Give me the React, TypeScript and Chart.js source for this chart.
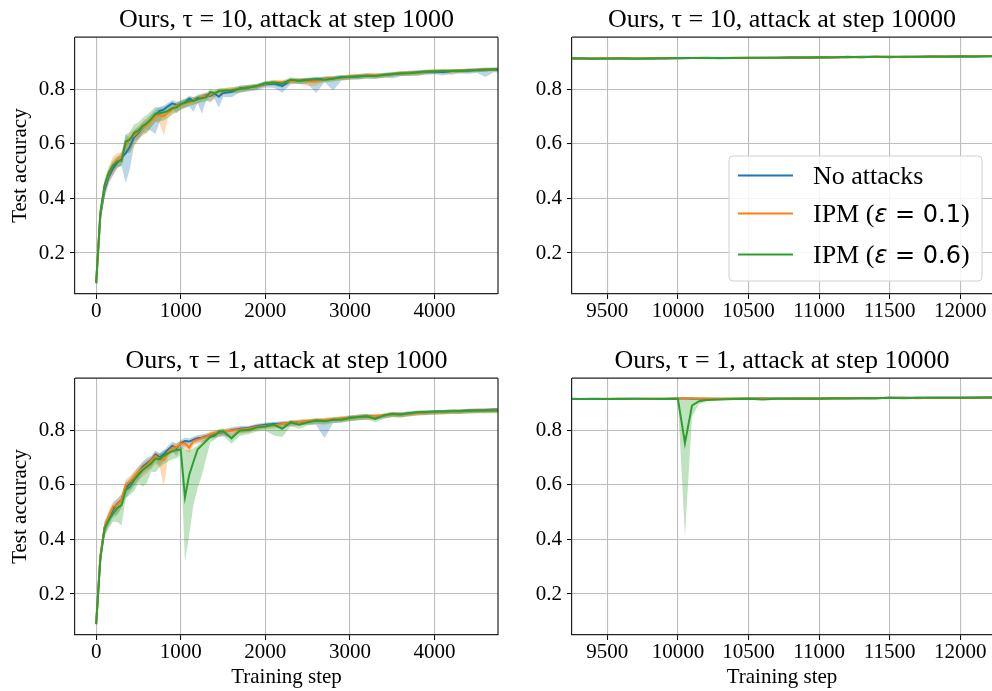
import React, { useEffect, useRef } from 'react';
import { Chart, registerables } from 'chart.js';

Chart.register(...registerables);

// ---------------- data ----------------
const TITLES = [
  'Ours, τ = 10, attack at step 1000',
  'Ours, τ = 10, attack at step 10000',
  'Ours, τ = 1, attack at step 1000',
  'Ours, τ = 1, attack at step 10000',
];
const LEGEND_LABELS = ['No attacks', 'IPM (ε = 0.1)', 'IPM (ε = 0.6)'];
const X_TICKS_L = [0, 1000, 2000, 3000, 4000];
const X_TICKS_R = [9500, 10000, 10500, 11000, 11500, 12000];
const Y_TICKS = [0.2, 0.4, 0.6, 0.8];

const STEPS_L = [
  0, 50, 100, 150, 200, 250, 300, 350,
  400, 450, 500, 550, 600, 650, 700, 750,
  800, 850, 900, 950, 1000, 1050, 1100, 1150,
  1200, 1250, 1300, 1350, 1400, 1450, 1500, 1600,
  1700, 1800, 1900, 2000, 2100, 2200, 2300, 2400,
  2500, 2600, 2700, 2800, 2900, 3000, 3100, 3200,
  3300, 3400, 3500, 3600, 3700, 3800, 3900, 4000,
  4100, 4200, 4300, 4400, 4500, 4600, 4700, 4750,
];

// top-left: tau = 10, attack at step 1000
const TL_BLUE = [
  0.090, 0.340, 0.430, 0.480, 0.510, 0.530, 0.550, 0.565,
  0.590, 0.625, 0.640, 0.660, 0.672, 0.688, 0.705, 0.720,
  0.725, 0.738, 0.748, 0.742, 0.745, 0.752, 0.765, 0.758,
  0.768, 0.770, 0.778, 0.775, 0.784, 0.772, 0.786, 0.790,
  0.803, 0.806, 0.810, 0.818, 0.820, 0.812, 0.830, 0.832,
  0.834, 0.836, 0.838, 0.840, 0.843, 0.845, 0.846, 0.850,
  0.849, 0.853, 0.854, 0.857, 0.860, 0.861, 0.863, 0.864,
  0.862, 0.866, 0.868, 0.867, 0.870, 0.869, 0.872, 0.871,
];
const TL_BLUE_DN = [
  0.005, 0.030, 0.030, 0.025, 0.025, 0.020, 0.030, 0.110,
  0.080, 0.030, 0.025, 0.020, 0.020, 0.040, 0.070, 0.040,
  0.020, 0.015, 0.020, 0.030, 0.015, 0.020, 0.030, 0.040,
  0.020, 0.060, 0.020, 0.020, 0.020, 0.040, 0.015, 0.020,
  0.015, 0.015, 0.015, 0.012, 0.015, 0.025, 0.012, 0.012,
  0.015, 0.050, 0.012, 0.045, 0.012, 0.010, 0.012, 0.010,
  0.012, 0.010, 0.015, 0.010, 0.010, 0.012, 0.010, 0.010,
  0.012, 0.010, 0.010, 0.012, 0.010, 0.025, 0.010, 0.010,
];
const TL_BLUE_UP = [
  0.005, 0.020, 0.020, 0.020, 0.020, 0.020, 0.020, 0.070,
  0.030, 0.025, 0.020, 0.020, 0.020, 0.020, 0.020, 0.015,
  0.015, 0.012, 0.012, 0.012, 0.012, 0.012, 0.012, 0.012,
  0.012, 0.012, 0.010, 0.010, 0.010, 0.010, 0.010, 0.010,
  0.010, 0.008, 0.008, 0.008, 0.008, 0.008, 0.008, 0.008,
  0.008, 0.008, 0.008, 0.008, 0.008, 0.008, 0.008, 0.008,
  0.007, 0.007, 0.007, 0.007, 0.007, 0.007, 0.007, 0.007,
  0.006, 0.006, 0.006, 0.006, 0.006, 0.006, 0.006, 0.006,
];
const TL_ORANGE = [
  0.090, 0.345, 0.445, 0.490, 0.525, 0.540, 0.550, 0.595,
  0.620, 0.630, 0.645, 0.660, 0.670, 0.685, 0.700, 0.705,
  0.700, 0.715, 0.725, 0.740, 0.742, 0.750, 0.752, 0.760,
  0.762, 0.772, 0.775, 0.780, 0.786, 0.790, 0.792, 0.798,
  0.800, 0.808, 0.810, 0.820, 0.825, 0.826, 0.828, 0.832,
  0.830, 0.828, 0.838, 0.840, 0.842, 0.846, 0.848, 0.850,
  0.852, 0.851, 0.856, 0.858, 0.860, 0.860, 0.865, 0.866,
  0.868, 0.866, 0.868, 0.870, 0.871, 0.873, 0.872, 0.874,
];
const TL_ORANGE_DN = [
  0.005, 0.030, 0.030, 0.030, 0.040, 0.030, 0.025, 0.030,
  0.050, 0.040, 0.030, 0.030, 0.030, 0.025, 0.020, 0.030,
  0.070, 0.020, 0.020, 0.020, 0.020, 0.015, 0.015, 0.015,
  0.015, 0.015, 0.015, 0.030, 0.015, 0.012, 0.012, 0.012,
  0.012, 0.012, 0.010, 0.010, 0.010, 0.010, 0.010, 0.012,
  0.020, 0.015, 0.010, 0.010, 0.010, 0.010, 0.010, 0.010,
  0.010, 0.010, 0.010, 0.010, 0.012, 0.010, 0.010, 0.010,
  0.008, 0.015, 0.008, 0.008, 0.008, 0.008, 0.008, 0.008,
];
const TL_ORANGE_UP = [
  0.005, 0.020, 0.020, 0.025, 0.030, 0.025, 0.020, 0.020,
  0.020, 0.020, 0.020, 0.020, 0.020, 0.020, 0.015, 0.015,
  0.015, 0.015, 0.015, 0.012, 0.012, 0.012, 0.012, 0.012,
  0.012, 0.012, 0.012, 0.012, 0.010, 0.010, 0.010, 0.010,
  0.010, 0.008, 0.008, 0.008, 0.008, 0.008, 0.008, 0.008,
  0.010, 0.010, 0.008, 0.008, 0.008, 0.008, 0.008, 0.008,
  0.007, 0.007, 0.007, 0.007, 0.007, 0.007, 0.007, 0.007,
  0.006, 0.006, 0.006, 0.006, 0.006, 0.006, 0.006, 0.006,
];
const TL_GREEN = [
  0.090, 0.350, 0.450, 0.495, 0.520, 0.535, 0.537, 0.608,
  0.615, 0.640, 0.648, 0.665, 0.675, 0.690, 0.710, 0.712,
  0.715, 0.720, 0.730, 0.733, 0.745, 0.750, 0.756, 0.757,
  0.763, 0.767, 0.770, 0.790, 0.784, 0.793, 0.794, 0.796,
  0.800, 0.806, 0.812, 0.822, 0.824, 0.820, 0.835, 0.830,
  0.833, 0.836, 0.834, 0.838, 0.843, 0.844, 0.847, 0.848,
  0.848, 0.852, 0.855, 0.858, 0.858, 0.862, 0.864, 0.865,
  0.866, 0.867, 0.866, 0.869, 0.870, 0.872, 0.873, 0.873,
];
const TL_GREEN_DN = [
  0.005, 0.030, 0.030, 0.025, 0.025, 0.020, 0.020, 0.040,
  0.050, 0.030, 0.030, 0.030, 0.035, 0.030, 0.030, 0.030,
  0.030, 0.025, 0.020, 0.020, 0.020, 0.020, 0.015, 0.015,
  0.015, 0.015, 0.015, 0.015, 0.015, 0.012, 0.012, 0.012,
  0.012, 0.012, 0.012, 0.010, 0.012, 0.015, 0.010, 0.012,
  0.012, 0.012, 0.010, 0.010, 0.010, 0.010, 0.010, 0.010,
  0.010, 0.010, 0.010, 0.010, 0.010, 0.010, 0.010, 0.010,
  0.008, 0.008, 0.008, 0.008, 0.008, 0.008, 0.008, 0.008,
];
const TL_GREEN_UP = [
  0.005, 0.020, 0.020, 0.020, 0.020, 0.020, 0.020, 0.025,
  0.030, 0.030, 0.030, 0.030, 0.030, 0.030, 0.025, 0.020,
  0.020, 0.020, 0.015, 0.015, 0.015, 0.015, 0.015, 0.012,
  0.012, 0.012, 0.012, 0.010, 0.010, 0.010, 0.010, 0.010,
  0.010, 0.010, 0.008, 0.008, 0.008, 0.010, 0.008, 0.008,
  0.008, 0.008, 0.008, 0.008, 0.008, 0.008, 0.008, 0.008,
  0.007, 0.007, 0.007, 0.007, 0.007, 0.007, 0.007, 0.007,
  0.006, 0.006, 0.006, 0.006, 0.006, 0.006, 0.006, 0.006,
];

// bottom-left: tau = 1, attack at step 1000
const BL_BLUE = [
  0.090, 0.335, 0.445, 0.480, 0.510, 0.530, 0.545, 0.590,
  0.605, 0.625, 0.645, 0.665, 0.678, 0.690, 0.710, 0.700,
  0.712, 0.728, 0.742, 0.735, 0.752, 0.760, 0.758, 0.765,
  0.770, 0.772, 0.778, 0.782, 0.786, 0.790, 0.792, 0.800,
  0.805, 0.808, 0.815, 0.820, 0.822, 0.824, 0.826, 0.830,
  0.832, 0.834, 0.835, 0.838, 0.842, 0.846, 0.848, 0.851,
  0.850, 0.853, 0.858, 0.858, 0.861, 0.864, 0.865, 0.867,
  0.868, 0.870, 0.870, 0.872, 0.873, 0.874, 0.875, 0.875,
];
const BL_BLUE_DN = [
  0.005, 0.030, 0.030, 0.030, 0.030, 0.040, 0.030, 0.040,
  0.030, 0.030, 0.030, 0.025, 0.025, 0.030, 0.025, 0.030,
  0.025, 0.020, 0.020, 0.030, 0.020, 0.020, 0.020, 0.015,
  0.015, 0.015, 0.015, 0.015, 0.015, 0.015, 0.015, 0.025,
  0.015, 0.015, 0.015, 0.012, 0.012, 0.012, 0.012, 0.012,
  0.012, 0.015, 0.065, 0.012, 0.012, 0.012, 0.012, 0.012,
  0.012, 0.010, 0.010, 0.010, 0.010, 0.010, 0.010, 0.010,
  0.010, 0.010, 0.010, 0.010, 0.010, 0.010, 0.010, 0.010,
];
const BL_BLUE_UP = [
  0.005, 0.020, 0.020, 0.020, 0.020, 0.020, 0.020, 0.020,
  0.020, 0.020, 0.020, 0.020, 0.020, 0.015, 0.015, 0.015,
  0.015, 0.015, 0.015, 0.015, 0.012, 0.012, 0.012, 0.012,
  0.012, 0.012, 0.010, 0.010, 0.010, 0.010, 0.010, 0.010,
  0.010, 0.008, 0.008, 0.008, 0.008, 0.008, 0.008, 0.008,
  0.008, 0.008, 0.008, 0.008, 0.008, 0.008, 0.008, 0.008,
  0.007, 0.007, 0.007, 0.007, 0.007, 0.007, 0.007, 0.007,
  0.006, 0.006, 0.006, 0.006, 0.006, 0.006, 0.006, 0.006,
];
const BL_ORANGE = [
  0.090, 0.340, 0.445, 0.485, 0.520, 0.525, 0.545, 0.600,
  0.612, 0.630, 0.648, 0.660, 0.672, 0.688, 0.705, 0.695,
  0.690, 0.720, 0.735, 0.738, 0.750, 0.752, 0.735, 0.760,
  0.765, 0.770, 0.775, 0.785, 0.790, 0.792, 0.795, 0.798,
  0.802, 0.805, 0.812, 0.815, 0.818, 0.822, 0.828, 0.830,
  0.833, 0.835, 0.837, 0.840, 0.843, 0.845, 0.849, 0.850,
  0.852, 0.854, 0.857, 0.857, 0.860, 0.863, 0.864, 0.866,
  0.867, 0.869, 0.869, 0.871, 0.872, 0.872, 0.873, 0.873,
];
const BL_ORANGE_DN = [
  0.005, 0.030, 0.030, 0.030, 0.030, 0.030, 0.030, 0.030,
  0.030, 0.030, 0.030, 0.030, 0.030, 0.030, 0.030, 0.030,
  0.095, 0.020, 0.020, 0.020, 0.020, 0.020, 0.020, 0.015,
  0.015, 0.015, 0.015, 0.015, 0.015, 0.015, 0.015, 0.015,
  0.015, 0.015, 0.012, 0.012, 0.012, 0.012, 0.012, 0.012,
  0.012, 0.012, 0.012, 0.012, 0.012, 0.012, 0.012, 0.012,
  0.010, 0.010, 0.010, 0.010, 0.010, 0.010, 0.010, 0.010,
  0.010, 0.010, 0.010, 0.010, 0.010, 0.010, 0.010, 0.010,
];
const BL_ORANGE_UP = [
  0.005, 0.020, 0.020, 0.020, 0.020, 0.020, 0.020, 0.020,
  0.020, 0.020, 0.020, 0.020, 0.020, 0.015, 0.015, 0.020,
  0.025, 0.015, 0.015, 0.015, 0.012, 0.012, 0.012, 0.012,
  0.012, 0.012, 0.010, 0.010, 0.010, 0.010, 0.010, 0.010,
  0.010, 0.008, 0.008, 0.008, 0.008, 0.008, 0.008, 0.008,
  0.008, 0.008, 0.008, 0.008, 0.008, 0.008, 0.008, 0.008,
  0.007, 0.007, 0.007, 0.007, 0.007, 0.007, 0.007, 0.007,
  0.006, 0.006, 0.006, 0.006, 0.006, 0.006, 0.006, 0.006,
];
const BL_GREEN = [
  0.090, 0.331, 0.440, 0.471, 0.495, 0.514, 0.526, 0.581,
  0.593, 0.617, 0.636, 0.654, 0.666, 0.678, 0.696, 0.693,
  0.706, 0.715, 0.723, 0.727, 0.729, 0.554, 0.636, 0.684,
  0.730, 0.745, 0.760, 0.776, 0.779, 0.794, 0.796, 0.770,
  0.799, 0.800, 0.810, 0.813, 0.820, 0.805, 0.829, 0.820,
  0.829, 0.835, 0.832, 0.838, 0.838, 0.844, 0.848, 0.851,
  0.841, 0.854, 0.860, 0.857, 0.862, 0.865, 0.866, 0.867,
  0.868, 0.869, 0.869, 0.871, 0.872, 0.872, 0.872, 0.872,
];
const BL_GREEN_DN = [
  0.005, 0.030, 0.030, 0.030, 0.030, 0.050, 0.075, 0.030,
  0.030, 0.040, 0.030, 0.060, 0.060, 0.030, 0.050, 0.030,
  0.030, 0.030, 0.030, 0.030, 0.020, 0.235, 0.220, 0.158,
  0.143, 0.109, 0.064, 0.020, 0.015, 0.015, 0.015, 0.020,
  0.020, 0.015, 0.015, 0.015, 0.040, 0.030, 0.015, 0.015,
  0.012, 0.012, 0.012, 0.012, 0.012, 0.012, 0.012, 0.012,
  0.012, 0.012, 0.012, 0.012, 0.010, 0.010, 0.010, 0.010,
  0.010, 0.010, 0.010, 0.010, 0.010, 0.010, 0.010, 0.010,
];
const BL_GREEN_UP = [
  0.005, 0.020, 0.020, 0.020, 0.020, 0.020, 0.020, 0.020,
  0.020, 0.020, 0.020, 0.020, 0.020, 0.020, 0.020, 0.020,
  0.020, 0.015, 0.015, 0.015, 0.012, 0.175, 0.090, 0.050,
  0.015, 0.012, 0.012, 0.010, 0.010, 0.010, 0.010, 0.010,
  0.010, 0.010, 0.010, 0.010, 0.010, 0.010, 0.008, 0.008,
  0.008, 0.008, 0.008, 0.008, 0.008, 0.008, 0.008, 0.008,
  0.007, 0.007, 0.007, 0.007, 0.007, 0.007, 0.007, 0.007,
  0.006, 0.006, 0.006, 0.006, 0.006, 0.006, 0.006, 0.006,
];

const STEPS_R = [
  9200, 9300, 9400, 9500, 9600, 9700, 9800, 9900, 10000, 10050,
  10100, 10150, 10200, 10300, 10400, 10500, 10600, 10700, 10800, 10900,
  11000, 11100, 11200, 11300, 11400, 11500, 11600, 11700, 11800, 11900,
  12000, 12100, 12200, 12300,
];

// top-right: tau = 10, attack at step 10000
const TR_BLUE = [
  0.913, 0.913, 0.912, 0.912, 0.913, 0.912, 0.912, 0.912, 0.913, 0.913,
  0.914, 0.914, 0.914, 0.913, 0.914, 0.914, 0.915, 0.915, 0.916, 0.915,
  0.916, 0.917, 0.917, 0.918, 0.918, 0.917, 0.918, 0.918, 0.919, 0.918,
  0.919, 0.919, 0.920, 0.920,
];
const TR_ORANGE = [
  0.912, 0.911, 0.912, 0.913, 0.912, 0.912, 0.913, 0.913, 0.913, 0.914,
  0.914, 0.915, 0.914, 0.914, 0.915, 0.915, 0.914, 0.915, 0.916, 0.916,
  0.916, 0.917, 0.917, 0.917, 0.918, 0.918, 0.917, 0.918, 0.919, 0.919,
  0.919, 0.920, 0.921, 0.921,
];
const TR_GREEN = [
  0.912, 0.912, 0.911, 0.912, 0.912, 0.911, 0.912, 0.913, 0.914, 0.914,
  0.914, 0.914, 0.915, 0.914, 0.914, 0.915, 0.915, 0.915, 0.916, 0.916,
  0.917, 0.916, 0.918, 0.917, 0.918, 0.918, 0.918, 0.918, 0.919, 0.919,
  0.920, 0.919, 0.920, 0.921,
];
const TR_SPREAD = [
  0.002, 0.002, 0.003, 0.002, 0.002, 0.002, 0.003, 0.002, 0.002, 0.002,
  0.002, 0.002, 0.002, 0.002, 0.003, 0.002, 0.002, 0.002, 0.002, 0.003,
  0.002, 0.002, 0.002, 0.002, 0.002, 0.002, 0.002, 0.003, 0.002, 0.002,
  0.002, 0.002, 0.002, 0.002,
];

// bottom-right: tau = 1, attack at step 10000
const BR_BLUE = [
  0.915, 0.914, 0.915, 0.914, 0.915, 0.915, 0.914, 0.915, 0.916, 0.916,
  0.915, 0.915, 0.915, 0.915, 0.915, 0.916, 0.916, 0.916, 0.916, 0.916,
  0.916, 0.917, 0.917, 0.917, 0.917, 0.918, 0.918, 0.918, 0.918, 0.918,
  0.918, 0.919, 0.919, 0.920,
];
const BR_ORANGE = [
  0.914, 0.914, 0.914, 0.915, 0.915, 0.914, 0.915, 0.915, 0.916, 0.917,
  0.917, 0.916, 0.916, 0.915, 0.916, 0.916, 0.916, 0.915, 0.916, 0.916,
  0.916, 0.916, 0.917, 0.917, 0.917, 0.918, 0.918, 0.917, 0.918, 0.918,
  0.918, 0.918, 0.919, 0.919,
];
const BR_GREEN = [
  0.914, 0.914, 0.914, 0.914, 0.914, 0.915, 0.915, 0.914, 0.915, 0.752,
  0.890, 0.906, 0.910, 0.912, 0.914, 0.915, 0.912, 0.915, 0.915, 0.915,
  0.915, 0.916, 0.916, 0.917, 0.917, 0.918, 0.917, 0.918, 0.918, 0.918,
  0.918, 0.918, 0.919, 0.919,
];
const BR_GREEN_DN = [
  0.002, 0.002, 0.002, 0.002, 0.002, 0.002, 0.002, 0.002, 0.003, 0.342,
  0.040, 0.011, 0.005, 0.003, 0.002, 0.002, 0.002, 0.002, 0.002, 0.002,
  0.002, 0.002, 0.002, 0.002, 0.002, 0.002, 0.002, 0.002, 0.002, 0.002,
  0.002, 0.002, 0.002, 0.002,
];
const BR_GREEN_UP = [
  0.002, 0.002, 0.002, 0.002, 0.002, 0.002, 0.002, 0.002, 0.002, 0.160,
  0.022, 0.006, 0.003, 0.002, 0.002, 0.002, 0.002, 0.002, 0.002, 0.002,
  0.002, 0.002, 0.002, 0.002, 0.002, 0.002, 0.002, 0.002, 0.002, 0.002,
  0.002, 0.002, 0.002, 0.002,
];
const BR_SPREAD = [
  0.002, 0.002, 0.002, 0.002, 0.002, 0.002, 0.002, 0.002, 0.002, 0.002,
  0.002, 0.002, 0.002, 0.002, 0.002, 0.002, 0.003, 0.002, 0.002, 0.002,
  0.002, 0.002, 0.002, 0.002, 0.003, 0.002, 0.002, 0.002, 0.002, 0.002,
  0.002, 0.002, 0.002, 0.002,
];

// ---------------- styles ----------------
const SERIF = "'Liberation Serif', 'Times New Roman', 'DejaVu Serif', serif";
const SANS = "'DejaVu Sans', 'Noto Sans', sans-serif";
const COLORS = ['#1f77b4', '#ff7f0e', '#2ca02c'];
const FILLS = ['rgba(31,119,180,0.3)', 'rgba(255,127,14,0.3)', 'rgba(44,160,44,0.3)'];
const GRID = '#bdbdbd';
const SPINE = '#222222';

type Series = { mean: number[]; dn: number[]; up: number[] };

function buildDatasets(steps: number[], series: Series[]) {
  const ds: any[] = [];
  series.forEach((s, k) => {
    ds.push({
      label: LEGEND_LABELS[k] + ' upper',
      data: steps.map((x, i) => ({ x, y: s.mean[i] + s.up[i] })),
      borderWidth: 0,
      borderColor: 'rgba(0,0,0,0)',
      pointRadius: 0,
      fill: false,
      order: 20 - 2 * k,
    });
    ds.push({
      label: LEGEND_LABELS[k] + ' lower',
      data: steps.map((x, i) => ({ x, y: s.mean[i] - s.dn[i] })),
      borderWidth: 0,
      borderColor: 'rgba(0,0,0,0)',
      backgroundColor: FILLS[k],
      pointRadius: 0,
      fill: '-1',
      order: 19 - 2 * k,
    });
  });
  series.forEach((s, k) => {
    ds.push({
      label: LEGEND_LABELS[k],
      data: steps.map((x, i) => ({ x, y: s.mean[i] })),
      borderColor: COLORS[k],
      borderWidth: 2,
      pointRadius: 0,
      fill: false,
      order: 3 - k,
    });
  });
  return ds;
}

const boxPlugin = {
  id: 'mplBox',
  afterDatasetsDraw(chart: any, _args: any, opts: any) {
    const { ctx, chartArea: a } = chart;
    ctx.save();
    ctx.strokeStyle = SPINE;
    ctx.lineWidth = 1.2;
    ctx.beginPath();
    ctx.moveTo(a.left, a.top);
    ctx.lineTo(a.right, a.top);
    if (opts && opts.right) {
      ctx.moveTo(a.right, a.top);
      ctx.lineTo(a.right, a.bottom);
    }
    ctx.stroke();
    ctx.restore();
  },
};

const legendPlugin = {
  id: 'mplLegend',
  afterDraw(chart: any, _args: any, opts: any) {
    if (!opts || !opts.show) return;
    const { ctx, chartArea: a } = chart;
    const w = 253;
    const h = 125;
    const x0 = a.right - 10 - w;
    const y0 = a.bottom - 13 - h;
    const r = 4;
    ctx.save();
    ctx.beginPath();
    ctx.moveTo(x0 + r, y0);
    ctx.arcTo(x0 + w, y0, x0 + w, y0 + h, r);
    ctx.arcTo(x0 + w, y0 + h, x0, y0 + h, r);
    ctx.arcTo(x0, y0 + h, x0, y0, r);
    ctx.arcTo(x0, y0, x0 + w, y0, r);
    ctx.closePath();
    ctx.fillStyle = 'rgba(255,255,255,0.85)';
    ctx.fill();
    ctx.strokeStyle = '#d0d0d0';
    ctx.lineWidth = 1;
    ctx.stroke();

    const rows = [19.5, 57.5, 98.5];
    LEGEND_LABELS.forEach((label, i) => {
      const yy = y0 + rows[i];
      ctx.strokeStyle = COLORS[i];
      ctx.lineWidth = 2;
      ctx.beginPath();
      ctx.moveTo(x0 + 9, yy);
      ctx.lineTo(x0 + 64, yy);
      ctx.stroke();

      const base = yy + 8.6;
      let tx = x0 + 84;
      ctx.fillStyle = '#000';
      ctx.textBaseline = 'alphabetic';
      ctx.textAlign = 'left';
      const m = label.match(/^(.*\()(ε)(.*)(\))$/);
      const parts: [string, string][] = m
        ? [
            [m[1], `26px ${SERIF}`],
            [m[2], `italic 24px ${SANS}`],
            [m[3], `24px ${SANS}`],
            [m[4], `26px ${SERIF}`],
          ]
        : [[label, `26px ${SERIF}`]];
      parts.forEach(([t, f]) => {
        ctx.font = f;
        ctx.fillText(t, tx, base);
        tx += ctx.measureText(t).width;
      });
    });
    ctx.restore();
  },
};

type PanelSpec = {
  id: string;
  left: number;
  top: number;
  width: number;
  height: number;
  title: string;
  steps: number[];
  series: Series[];
  xMin: number;
  xMax: number;
  xTicks: number[];
  yWidth: number;
  xHeight: number;
  padRight: number;
  yTitle: boolean;
  xTitle: boolean;
  rightSpine: boolean;
  legend: boolean;
};

const PANELS: PanelSpec[] = [
  {
    id: 'tl', left: 0, top: 0, width: 500, height: 340, title: TITLES[0],
    steps: STEPS_L,
    series: [
      { mean: TL_BLUE, dn: TL_BLUE_DN, up: TL_BLUE_UP },
      { mean: TL_ORANGE, dn: TL_ORANGE_DN, up: TL_ORANGE_UP },
      { mean: TL_GREEN, dn: TL_GREEN_DN, up: TL_GREEN_UP },
    ],
    xMin: -250, xMax: 4750, xTicks: X_TICKS_L, yWidth: 75, xHeight: 46, padRight: 2,
    yTitle: true, xTitle: false, rightSpine: true, legend: false,
  },
  {
    id: 'tr', left: 500, top: 0, width: 492, height: 340, title: TITLES[1],
    steps: STEPS_R,
    series: [
      { mean: TR_BLUE, dn: TR_SPREAD, up: TR_SPREAD },
      { mean: TR_ORANGE, dn: TR_SPREAD, up: TR_SPREAD },
      { mean: TR_GREEN, dn: TR_SPREAD, up: TR_SPREAD },
    ],
    xMin: 9250, xMax: 12225, xTicks: X_TICKS_R, yWidth: 72, xHeight: 46, padRight: 0,
    yTitle: false, xTitle: false, rightSpine: false, legend: true,
  },
  {
    id: 'bl', left: 0, top: 341, width: 500, height: 350, title: TITLES[2],
    steps: STEPS_L,
    series: [
      { mean: BL_BLUE, dn: BL_BLUE_DN, up: BL_BLUE_UP },
      { mean: BL_ORANGE, dn: BL_ORANGE_DN, up: BL_ORANGE_UP },
      { mean: BL_GREEN, dn: BL_GREEN_DN, up: BL_GREEN_UP },
    ],
    xMin: -250, xMax: 4750, xTicks: X_TICKS_L, yWidth: 75, xHeight: 56, padRight: 2,
    yTitle: true, xTitle: true, rightSpine: true, legend: false,
  },
  {
    id: 'br', left: 500, top: 341, width: 492, height: 350, title: TITLES[3],
    steps: STEPS_R,
    series: [
      { mean: BR_BLUE, dn: BR_SPREAD, up: BR_SPREAD },
      { mean: BR_ORANGE, dn: BR_SPREAD, up: BR_SPREAD },
      { mean: BR_GREEN, dn: BR_GREEN_DN, up: BR_GREEN_UP },
    ],
    xMin: 9250, xMax: 12225, xTicks: X_TICKS_R, yWidth: 72, xHeight: 56, padRight: 0,
    yTitle: false, xTitle: true, rightSpine: false, legend: false,
  },
];

function makeConfig(p: PanelSpec): any {
  const tickFont = { family: SERIF, size: 21 };
  return {
    type: 'line',
    data: { datasets: buildDatasets(p.steps, p.series) },
    options: {
      responsive: false,
      animation: false,
      devicePixelRatio: 1,
      events: [],
      layout: { padding: { left: 0, right: p.padRight, top: 0, bottom: 0 } },
      elements: { line: { tension: 0 }, point: { radius: 0 } },
      datasets: { line: { clip: 0 } },
      plugins: {
        legend: { display: false },
        tooltip: { enabled: false },
        title: {
          display: true,
          text: p.title,
          fullSize: false,
          color: '#000',
          font: { family: SERIF, size: 26, weight: 'normal', lineHeight: 1.2 },
          padding: { top: 5, bottom: 1 },
        },
        mplBox: { right: p.rightSpine },
        mplLegend: { show: p.legend },
      },
      scales: {
        x: {
          type: 'linear',
          min: p.xMin,
          max: p.xMax,
          afterBuildTicks: (s: any) => { s.ticks = p.xTicks.map((v) => ({ value: v })); },
          afterFit: (s: any) => { s.height = p.xHeight; },
          ticks: {
            autoSkip: false,
            maxRotation: 0,
            minRotation: 0,
            color: '#000',
            font: tickFont,
            padding: 0,
            callback: (v: any) => String(v),
          },
          grid: { color: GRID, lineWidth: 1.1, drawTicks: true, tickLength: 5, tickColor: '#000', tickWidth: 1 },
          border: { display: true, color: SPINE, width: 1.2 },
          title: {
            display: p.xTitle,
            text: 'Training step',
            color: '#000',
            font: { family: SERIF, size: 21, lineHeight: 1.2 },
            padding: { top: 0, bottom: 1 },
          },
        },
        y: {
          type: 'linear',
          min: 0.05,
          max: 0.99,
          afterBuildTicks: (s: any) => { s.ticks = Y_TICKS.map((v) => ({ value: v })); },
          afterFit: (s: any) => { s.width = p.yWidth; },
          ticks: {
            color: '#000',
            font: tickFont,
            padding: 5,
            callback: (v: any) => Number(v).toFixed(1),
          },
          grid: { color: GRID, lineWidth: 1.1, drawTicks: true, tickLength: 5, tickColor: '#000', tickWidth: 1 },
          border: { display: true, color: SPINE, width: 1.2 },
          title: {
            display: p.yTitle,
            text: 'Test accuracy',
            color: '#000',
            font: { family: SERIF, size: 21, lineHeight: 1.2 },
            padding: { top: 8, bottom: 0 },
          },
        },
      },
    },
    plugins: [boxPlugin, legendPlugin],
  };
}

function Panel({ spec }: { spec: PanelSpec }) {
  const ref = useRef<HTMLCanvasElement>(null);
  useEffect(() => {
    if (!ref.current) return;
    const chart = new Chart(ref.current, makeConfig(spec));
    return () => chart.destroy();
  }, [spec]);
  return (
    <canvas
      ref={ref}
      width={spec.width}
      height={spec.height}
      style={{ position: 'absolute', left: spec.left, top: spec.top, width: spec.width, height: spec.height }}
    />
  );
}

export default function App() {
  return (
    <div
      style={{
        position: 'fixed',
        left: 0,
        top: 0,
        width: 992,
        height: 691,
        background: '#ffffff',
        overflow: 'hidden',
      }}
    >
      {PANELS.map((p) => (
        <Panel key={p.id} spec={p} />
      ))}
    </div>
  );
}
